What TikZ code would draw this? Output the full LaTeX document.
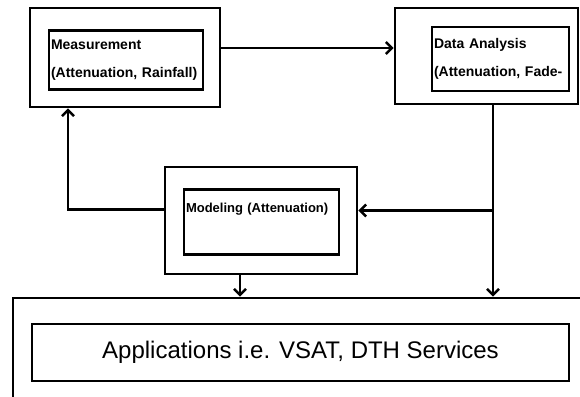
\documentclass[tikz,border=0pt]{standalone}
\usepackage{fontspec}
\setmainfont{Liberation Sans}
\usetikzlibrary{arrows.meta,calc}

\begin{document}
\begin{tikzpicture}[x=1pt,y=-1pt,
  outerbox/.style={rectangle,draw,line width=2.8pt,inner sep=0pt},
  innerbox/.style={rectangle,draw,line width=2.6pt,inner xsep=2pt,inner ysep=0pt,align=left,
    font=\fontsize{14}{28}\selectfont\bfseries},
  appbox/.style={rectangle,draw,line width=2.6pt,font=\fontsize{24}{28}\selectfont},
  arr/.style={-{Straight Barb[length=6pt,width=12pt]},line width=2.4pt}
]
\useasboundingbox (0,0) rectangle (580,396);
\clip (0,0) rectangle (580,396);

% Top left: measurement
\node[outerbox,minimum width=190pt,minimum height=99pt] (meas) at (125,57.5) {};
\node[innerbox,text width=150pt,minimum height=59pt] (measin) at (126,60) {Measurement\\(Attenuation, Rainfall)};

% Top right: data analysis
\node[outerbox,minimum width=183pt,minimum height=96pt] (data) at (486.5,56) {};
\node[innerbox,text width=133pt,minimum height=64pt] (datain) at (500.5,59) {Data Analysis\\(Attenuation, Fade-};

% Middle: modeling
\node[outerbox,minimum width=192pt,minimum height=107pt] (model) at (261,220.5) {};
\node[innerbox,font=\fontsize{13}{28}\selectfont\bfseries,text width=151pt,minimum height=65pt] (modelin) at (261.5,222) {\mbox{Modeling (Attenuation)}\\\mbox{}};

% Bottom: applications (runs off the page)
\node[outerbox,minimum width=590pt,minimum height=120pt] (app) at (308,358) {};
\node[appbox,minimum width=537pt,minimum height=57pt] (appin) at (300.5,352.5) {Applications i.e. VSAT, DTH Services};

% Arrows
\coordinate (dOut) at ([xshift=6.5pt]data.south);
\coordinate (mIn) at ([yshift=10pt]model.east);
\coordinate (mOut) at ([yshift=11pt]model.west);
\draw[arr] ([yshift=9.5pt]meas.east) -- ([yshift=9.5pt]meas.east -| data.west);
\draw[arr] (dOut) -- (dOut |- app.north);
\draw[arr] (dOut |- mIn) -- (mIn);
\draw[arr] (mOut) -| ([xshift=-57pt]meas.south);
\draw[arr] ([xshift=-21pt]model.south) -- ([xshift=-21pt]model.south |- app.north);

\end{tikzpicture}
\end{document}
